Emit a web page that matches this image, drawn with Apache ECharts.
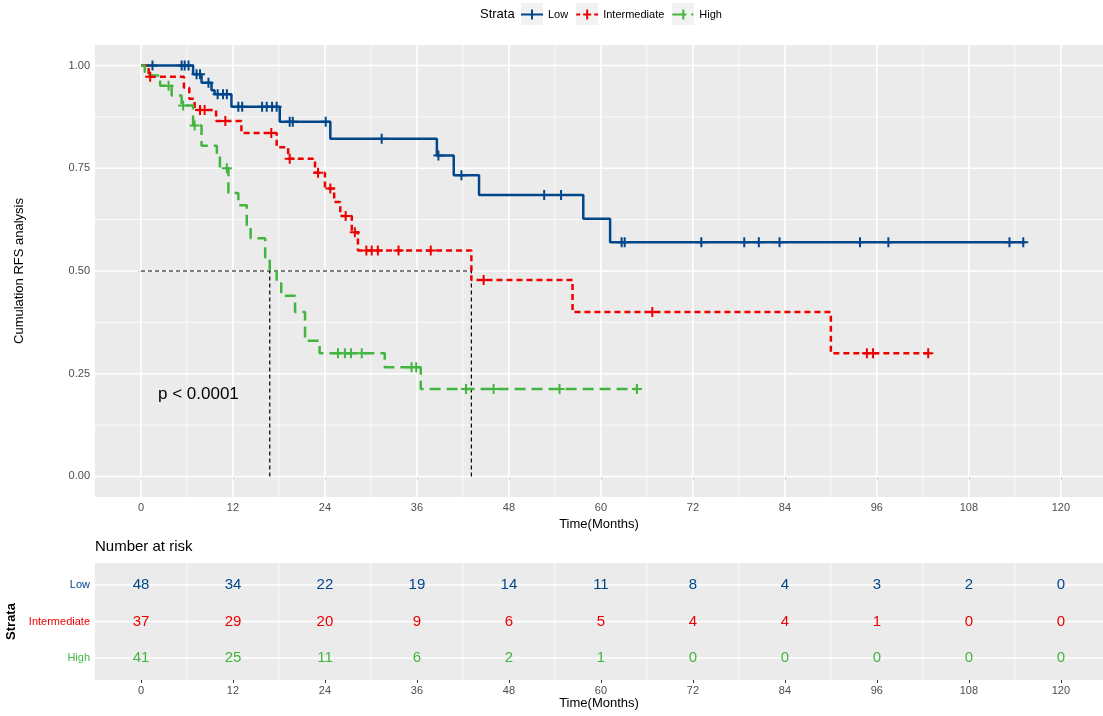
<!DOCTYPE html>
<html><head><meta charset="utf-8">
<script src="https://cdn.jsdelivr.net/npm/echarts@6/dist/echarts.min.js"></script>
<style>html,body{margin:0;padding:0;background:#fff}#c{width:1103px;height:716px}</style>
</head><body><div id="c"></div>
<script>
// ---------- data ----------
const groups = ['Low', 'Intermediate', 'High'];
const colors = ['#00468B', '#ED0000', '#42B540'];

const lowTimes = [0, 6.8, 7.9, 9.2, 9.6, 11.8, 18.1, 24.7, 38.6, 40.8, 44.1, 57.7, 61.2];
const lowSurv  = [1.0, 0.979, 0.958, 0.94, 0.93, 0.90, 0.863, 0.822, 0.781, 0.733, 0.685, 0.627, 0.570];
const lowEnd = 115.3;
const lowCensor = [1.5, 5.3, 5.7, 6.2, 7.25, 7.7, 8.8, 10.0, 10.7, 11.2, 12.7, 13.2, 15.8, 16.4, 17.1, 17.7,
  19.4, 19.8, 24.1, 31.4, 38.8, 41.8, 52.6, 54.8, 62.7, 63.1, 73.1, 78.7, 80.6, 83.3, 93.8, 97.5, 113.3, 115.1];

const intTimes = [0, 1.0, 5.6, 6.3, 7.0, 9.8, 13.1, 17.7, 19.2, 22.7, 24.0, 25.2, 26.0, 27.5, 28.3, 43.1, 56.3, 90.0];
const intSurv  = [1.0, 0.973, 0.946, 0.919, 0.892, 0.865, 0.836, 0.801, 0.773, 0.739, 0.701, 0.668, 0.634, 0.594, 0.55, 0.478, 0.40, 0.30];
const intEnd = 103.0;
const intCensor = [1.2, 7.7, 8.3, 11.0, 17.0, 19.4, 23.1, 24.7, 26.7, 27.9, 29.4, 30.1, 30.9, 33.6, 37.8,
  44.7, 66.7, 94.7, 95.5, 102.7];

const highTimes = [0, 0.5, 2.5, 4.0, 5.3, 6.8, 7.9, 9.9, 10.3, 11.4, 12.7, 13.8, 14.3, 16.2, 16.8, 17.7, 18.3, 20.1, 21.4, 23.3, 31.8, 36.5];
const highSurv  = [1.0, 0.976, 0.951, 0.927, 0.903, 0.854, 0.805, 0.78, 0.75, 0.69, 0.66, 0.61, 0.58, 0.53, 0.50, 0.47, 0.44, 0.40, 0.33, 0.30, 0.266, 0.213];
const highEnd = 64.8;
const highCensor = [3.6, 5.5, 7.0, 11.2, 25.7, 26.6, 27.4, 28.8, 35.3, 35.9, 42.4, 46.0, 54.6, 64.7];

const medians = [16.8, 43.1];

const xTicks = [0, 12, 24, 36, 48, 60, 72, 84, 96, 108, 120];
const xMinor = [6, 18, 30, 42, 54, 66, 78, 90, 102, 114];
const yTicks = [0, 0.25, 0.5, 0.75, 1];
const yMinor = [0.125, 0.375, 0.625, 0.875];

const riskTimes = [0, 12, 24, 36, 48, 60, 72, 84, 96, 108, 120];
const lowRisk  = [48, 34, 22, 19, 14, 11, 8, 4, 3, 2, 0];
const intRisk  = [37, 29, 20, 9, 6, 5, 4, 4, 1, 0, 0];
const highRisk = [41, 25, 11, 6, 2, 1, 0, 0, 0, 0, 0];

// ---------- helpers ----------
const FONT = '"Liberation Sans", Arial, Helvetica, sans-serif';
function survAt(times, surv, t) { let s = surv[0]; for (let i = 0; i < times.length; i++) if (times[i] <= t) s = surv[i]; return s; }
function stepData(times, surv, end) { const d = times.map((t, i) => [t, surv[i]]); d.push([end, surv[surv.length - 1]]); return d; }
const CROSS = 'path://M4,0L6,0L6,4L10,4L10,6L6,6L6,10L4,10L4,6L0,6L0,4L4,4Z';

const curves = [
  { t: lowTimes, s: lowSurv, end: lowEnd, c: lowCensor, dash: 'solid' },
  { t: intTimes, s: intSurv, end: intEnd, c: intCensor, dash: [6, 4] },
  { t: highTimes, s: highSurv, end: highEnd, c: highCensor, dash: [11, 6] }
];
const risks = [lowRisk, intRisk, highRisk];
const rowOf = [3, 2, 1];

function gridRender(params, api) {
  const cs = params.coordSys;
  const v = api.value(0), vertical = api.value(1) === 0, major = api.value(2) === 1;
  let shape;
  if (vertical) { const x = api.coord([v, 1])[0]; shape = { x1: x, y1: cs.y, x2: x, y2: cs.y + cs.height }; }
  else { const y = api.coord([0, v])[1]; shape = { x1: cs.x, y1: y, x2: cs.x + cs.width, y2: y }; }
  return { type: 'line', shape, silent: true, style: { stroke: '#FFFFFF', lineWidth: major ? 1.6 : 0.8 } };
}
const mainGrid = [...xTicks.map(v => [v, 0, 1]), ...xMinor.map(v => [v, 0, 0]),
                  ...yTicks.map(v => [v, 1, 1]), ...yMinor.map(v => [v, 1, 0])];
const riskGrid = [...xMinor.map(v => [v, 0, 0]), ...[1, 2, 3].map(v => [v, 1, 1])];

const series = [
  { type: 'custom', name: 'g0', xAxisIndex: 0, yAxisIndex: 0, z: 1, silent: true, renderItem: gridRender, data: mainGrid },
  { type: 'custom', name: 'g1', xAxisIndex: 1, yAxisIndex: 1, z: 1, silent: true, renderItem: gridRender, data: riskGrid }
];

// median reference lines
series.push({ type: 'line', name: 'm0', xAxisIndex: 0, yAxisIndex: 0, symbol: 'none', silent: true, z: 2,
  lineStyle: { color: '#000', width: 1.2, type: [4, 3] }, data: [[0, 0.5], [Math.max(...medians), 0.5]] });
medians.forEach((m, i) => series.push({ type: 'line', name: 'mv' + i, xAxisIndex: 0, yAxisIndex: 0, symbol: 'none', silent: true, z: 2,
  lineStyle: { color: '#000', width: 1.2, type: [4, 3] }, data: [[m, 0], [m, 0.5]] }));

curves.forEach((cv, i) => {
  series.push({ type: 'line', name: groups[i], xAxisIndex: 0, yAxisIndex: 0, step: 'end', symbol: 'none', z: 3,
    lineStyle: { color: colors[i], width: 2.5, type: cv.dash }, itemStyle: { color: colors[i] },
    data: stepData(cv.t, cv.s, cv.end) });
  series.push({ type: 'scatter', name: groups[i], xAxisIndex: 0, yAxisIndex: 0, symbol: CROSS, symbolSize: 10, z: 4,
    itemStyle: { color: colors[i], opacity: 1 },
    data: cv.c.map(t => [t, survAt(cv.t, cv.s, t)]) });
});

risks.forEach((r, i) => {
  series.push({ type: 'custom', name: 'r' + i, xAxisIndex: 1, yAxisIndex: 1, z: 3, silent: true,
    data: riskTimes.map((t, k) => [t, rowOf[i], r[k]]),
    renderItem: (params, api) => {
      const p = api.coord([api.value(0), api.value(1)]);
      return { type: 'text', x: p[0], y: p[1], silent: true,
        style: { text: String(api.value(2)), fill: colors[i], font: '15px ' + FONT, align: 'center', verticalAlign: 'middle' } };
    } });
});

function xAxis(gridIndex) {
  return {
    type: 'value', gridIndex, min: -6, max: 125.5,
    axisLine: { show: false },
    axisTick: { show: true, customValues: xTicks, length: 3, lineStyle: { color: '#333333', width: 1 } },
    axisLabel: { show: true, customValues: xTicks, color: '#4D4D4D', fontSize: 11, margin: 5, fontFamily: FONT },
    splitLine: { show: false }, minorSplitLine: { show: false },
    name: 'Time(Months)', nameLocation: 'middle', nameGap: 16,
    nameTextStyle: { color: '#000', fontSize: 13, fontFamily: FONT }
  };
}

const legendIcons = [
  'path://M0,4L22,4L22,6L0,6Z M10,0L12,0L12,10L10,10Z',
  'path://M0,4L4,4L4,6L0,6Z M7,4L15,4L15,6L7,6Z M18,4L22,4L22,6L18,6Z M10,0L12,0L12,10L10,10Z',
  'path://M0,4L14,4L14,6L0,6Z M10,0L12,0L12,10L10,10Z M19,4L21,4L21,6L19,6Z M0,0L0.01,0L0.01,0.01Z M22,10L21.99,10L21.99,9.99Z'
];

const option = {
  animation: false,
  backgroundColor: '#FFFFFF',
  textStyle: { fontFamily: FONT },
  grid: [
    { left: 95, right: 0, top: 45, bottom: 219, containLabel: false, outerBoundsMode: 'none', show: true, backgroundColor: '#EBEBEB', borderWidth: 0 },
    { left: 95, right: 0, top: 563, bottom: 36, containLabel: false, outerBoundsMode: 'none', show: true, backgroundColor: '#EBEBEB', borderWidth: 0 }
  ],
  xAxis: [xAxis(0), xAxis(1)],
  yAxis: [
    { type: 'value', gridIndex: 0, min: -0.05, max: 1.05,
      axisLine: { show: false },
      axisTick: { show: true, customValues: yTicks, length: 3, lineStyle: { color: '#333333' } },
      axisLabel: { show: true, customValues: yTicks, formatter: v => Number(v).toFixed(2), color: '#4D4D4D', fontSize: 11, margin: 5, fontFamily: FONT },
      splitLine: { show: false },
      name: 'Cumulation RFS analysis', nameLocation: 'middle', nameGap: 69,
      nameTextStyle: { color: '#000', fontSize: 13, fontFamily: FONT } },
    { type: 'value', gridIndex: 1, min: 0.4, max: 3.6,
      axisLine: { show: false },
      axisTick: { show: true, customValues: [1, 2, 3], length: 3, lineStyle: { color: '#333333' } },
      axisLabel: { show: true, customValues: [1, 2, 3], margin: 5, fontSize: 11, fontFamily: FONT,
        formatter: v => { const i = rowOf.indexOf(Math.round(v)); return '{g' + i + '|' + groups[i] + '}'; },
        rich: { g0: { color: colors[0], fontSize: 11 }, g1: { color: colors[1], fontSize: 11 }, g2: { color: colors[2], fontSize: 11 } } },
      splitLine: { show: false },
      name: 'Strata', nameLocation: 'middle', nameGap: 69,
      nameTextStyle: { color: '#000', fontSize: 13, fontWeight: 'bold', fontFamily: FONT } }
  ],
  legend: {
    left: 521, top: 9, padding: 0, orient: 'horizontal', itemWidth: 22, itemHeight: 10, itemGap: 8, selectedMode: false,
    textStyle: { color: '#000', fontSize: 11, fontFamily: FONT },
    data: groups.map((g, i) => ({ name: g, icon: legendIcons[i], itemStyle: { color: colors[i] } }))
  },
  graphic: [
    { type: 'rect', left: 521, top: 3, z: 0, shape: { width: 22, height: 22 }, style: { fill: '#F2F2F2' } },
    { type: 'rect', left: 576, top: 3, z: 0, shape: { width: 22, height: 22 }, style: { fill: '#F2F2F2' } },
    { type: 'rect', left: 672, top: 3, z: 0, shape: { width: 22, height: 22 }, style: { fill: '#F2F2F2' } },
    { type: 'text', left: 480, top: 8, z: 5, style: { text: 'Strata', font: '13px ' + FONT, fill: '#000' } },
    { type: 'text', left: 158, top: 386, z: 5, style: { text: 'p < 0.0001', font: '17px ' + FONT, fill: '#000' } },
    { type: 'text', left: 95, top: 539, z: 5, style: { text: 'Number at risk', font: '15px ' + FONT, fill: '#000' } }
  ],
  series
};
const chart = echarts.init(document.getElementById('c'));
chart.setOption(option);
</script>
</body></html>
